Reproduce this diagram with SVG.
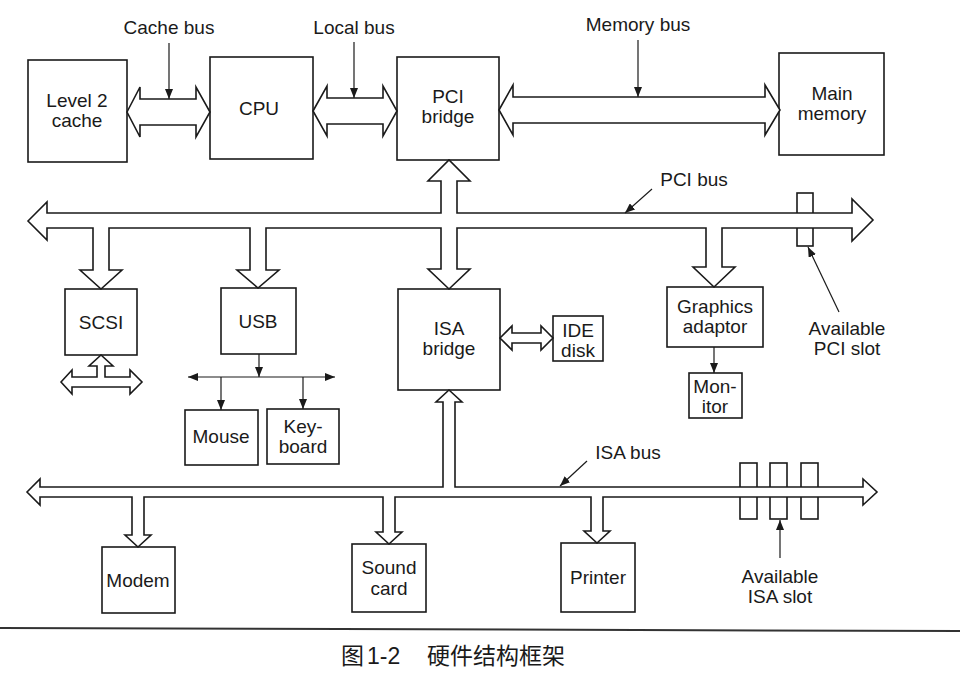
<svg xmlns="http://www.w3.org/2000/svg" width="960" height="681" viewBox="0 0 960 681">
<style>
.box{fill:#fff;stroke:#1a1a1a;stroke-width:1.6}
.bus{fill:#fff;stroke:#1a1a1a;stroke-width:1.6;stroke-linejoin:miter}
.thin{fill:none;stroke:#1a1a1a;stroke-width:1.2}
.t{font-family:"Liberation Sans",Arial,sans-serif;font-size:19px;fill:#1a1a1a;text-anchor:middle}
.cap{font-family:"Liberation Sans","Noto Sans CJK SC",sans-serif;font-size:23px;fill:#1a1a1a}
</style>
<defs>
<marker id="ah" viewBox="0 0 10 8" refX="10" refY="4" markerWidth="10" markerHeight="8" markerUnits="userSpaceOnUse" orient="auto">
<path d="M0,0 L10,4 L0,8 Z" fill="#1a1a1a"/>
</marker>
</defs>
<rect width="960" height="681" fill="#fff"/>

<g id="level2cache"><rect class="box" x="28" y="60" width="99" height="102"/><text class="t" x="77" y="107">Level 2</text><text class="t" x="77" y="127">cache</text></g>
<g id="cpu"><rect class="box" x="210" y="57" width="103" height="102"/><text class="t" x="259" y="115">CPU</text></g>
<g id="pcibridge"><rect class="box" x="397" y="57" width="102" height="103"/><text class="t" x="448" y="103">PCI</text><text class="t" x="448" y="123">bridge</text></g>
<g id="mainmemory"><rect class="box" x="779" y="53" width="105" height="102"/><text class="t" x="832" y="100">Main</text><text class="t" x="832" y="120">memory</text></g>
<g id="scsi"><rect class="box" x="65" y="289" width="72" height="66"/><text class="t" x="101" y="329">SCSI</text></g>
<g id="usb"><rect class="box" x="221" y="288" width="75" height="66"/><text class="t" x="258" y="328">USB</text></g>
<g id="mouse"><rect class="box" x="185" y="410" width="73" height="55"/><text class="t" x="221" y="443">Mouse</text></g>
<g id="keyboard"><rect class="box" x="267" y="409" width="72" height="55"/><text class="t" x="303" y="433">Key-</text><text class="t" x="303" y="453">board</text></g>
<g id="isabridge"><rect class="box" x="398" y="289" width="102" height="101"/><text class="t" x="449" y="335">ISA</text><text class="t" x="449" y="355">bridge</text></g>
<g id="idedisk"><rect class="box" x="553" y="316" width="50" height="45"/><text class="t" x="578" y="337">IDE</text><text class="t" x="578" y="357">disk</text></g>
<g id="graphics"><rect class="box" x="667" y="287" width="96" height="60"/><text class="t" x="715" y="313">Graphics</text><text class="t" x="715" y="333">adaptor</text></g>
<g id="monitor"><rect class="box" x="689" y="373" width="53" height="45"/><text class="t" x="715" y="393">Mon-</text><text class="t" x="715" y="413">itor</text></g>
<g id="modem"><rect class="box" x="102" y="547" width="73" height="66"/><text class="t" x="138" y="587">Modem</text></g>
<g id="soundcard"><rect class="box" x="352" y="544" width="74" height="68"/><text class="t" x="389" y="574">Sound</text><text class="t" x="389" y="595">card</text></g>
<g id="printer"><rect class="box" x="561" y="543" width="74" height="69"/><text class="t" x="598" y="584">Printer</text></g>

<g id="slots">
<rect class="box" x="797" y="193" width="16" height="53"/>
<rect class="box" x="740" y="463" width="17" height="56"/>
<rect class="box" x="770" y="463" width="17" height="56"/>
<rect class="box" x="801" y="463" width="17" height="56"/>
</g>

<g id="connectors">
<path id="cachebus" class="bus" d="M127,112 L140,87 L140,99 L196,99 L196,87 L210,112 L196,137 L196,125 L140,125 L140,137 Z"/>
<path id="localbus" class="bus" d="M313,111 L327,86 L327,98 L383,98 L383,86 L397,111 L383,136 L383,124 L327,124 L327,136 Z"/>
<path id="memorybus" class="bus" d="M499,110 L513,85 L513,97 L765,97 L765,85 L780,110 L765,135 L765,123 L513,123 L513,135 Z"/>
<path id="pcibus" class="bus" d="M28,221 L47,202 L47,213 L441,213 L441,181 L428,181 L449,160 L470,181 L457,181 L457,213 L852,213 L852,199 L873,220 L852,241 L852,228 L722,228 L722,267 L735,267 L714,287 L693,267 L706,267 L706,228 L457,228 L457,269 L470,269 L449,289 L428,269 L441,269 L441,228 L266,228 L266,270 L279,270 L258,288 L237,270 L250,270 L250,228 L109,228 L109,270 L122,270 L101,289 L80,270 L93,270 L93,228 L47,228 L47,240 Z"/>
<path id="isabus" class="bus" d="M27,492 L40,479 L40,487 L443,487 L443,402 L436,402 L449,390 L462,402 L455,402 L455,487 L863,487 L863,479 L877,492 L863,505 L863,497 L603,497 L603,531 L610,531 L597,543 L584,531 L591,531 L591,497 L395,497 L395,532 L402,532 L389,544 L376,532 L383,532 L383,497 L144,497 L144,535 L151,535 L138,547 L125,535 L132,535 L132,497 L40,497 L40,505 Z"/>
<path id="scsibus" class="bus" d="M61,382 L72,370 L72,377 L97,377 L97,366 L89,366 L101,355 L113,366 L105,366 L105,377 L130,377 L130,370 L142,382 L130,394 L130,387 L72,387 L72,394 Z"/>
<path id="idebus" class="bus" d="M500,338 L512,326 L512,333 L541,333 L541,326 L553,338 L541,350 L541,343 L512,343 L512,350 Z"/>
<line class="thin" x1="259" y1="354" x2="259" y2="377" marker-end="url(#ah)"/>
<line class="thin" x1="259" y1="377" x2="188" y2="377" marker-end="url(#ah)"/>
<line class="thin" x1="259" y1="377" x2="335" y2="377" marker-end="url(#ah)"/>
<line class="thin" x1="221" y1="377" x2="221" y2="410" marker-end="url(#ah)"/>
<line class="thin" x1="303" y1="377" x2="303" y2="409" marker-end="url(#ah)"/>
<line class="thin" x1="714" y1="347" x2="714" y2="373" marker-end="url(#ah)"/>
</g>

<g id="labels">
<text class="t" x="169" y="34">Cache bus</text>
<line class="thin" x1="169" y1="43" x2="169" y2="99" marker-end="url(#ah)"/>
<text class="t" x="354" y="34">Local bus</text>
<line class="thin" x1="354" y1="42" x2="354" y2="98" marker-end="url(#ah)"/>
<text class="t" x="638" y="31">Memory bus</text>
<line class="thin" x1="638" y1="40" x2="638" y2="97" marker-end="url(#ah)"/>
<text class="t" x="694" y="186">PCI bus</text>
<line class="thin" x1="652" y1="189" x2="625" y2="213" marker-end="url(#ah)"/>
<text class="t" x="628" y="459">ISA bus</text>
<line class="thin" x1="587" y1="461" x2="560" y2="486" marker-end="url(#ah)"/>
<text class="t" x="847" y="335">Available</text>
<text class="t" x="847" y="355">PCI slot</text>
<line class="thin" x1="839" y1="312" x2="808" y2="247" marker-end="url(#ah)"/>
<text class="t" x="780" y="583">Available</text>
<text class="t" x="780" y="603">ISA slot</text>
<line class="thin" x1="780" y1="558" x2="780" y2="520" marker-end="url(#ah)"/>
</g>

<line x1="0" y1="628" x2="960" y2="631" stroke="#333" stroke-width="2"/>
<text class="cap" y="664"><tspan x="341">图</tspan><tspan x="367">1-2</tspan><tspan x="427">硬件结构框架</tspan></text>
</svg>
